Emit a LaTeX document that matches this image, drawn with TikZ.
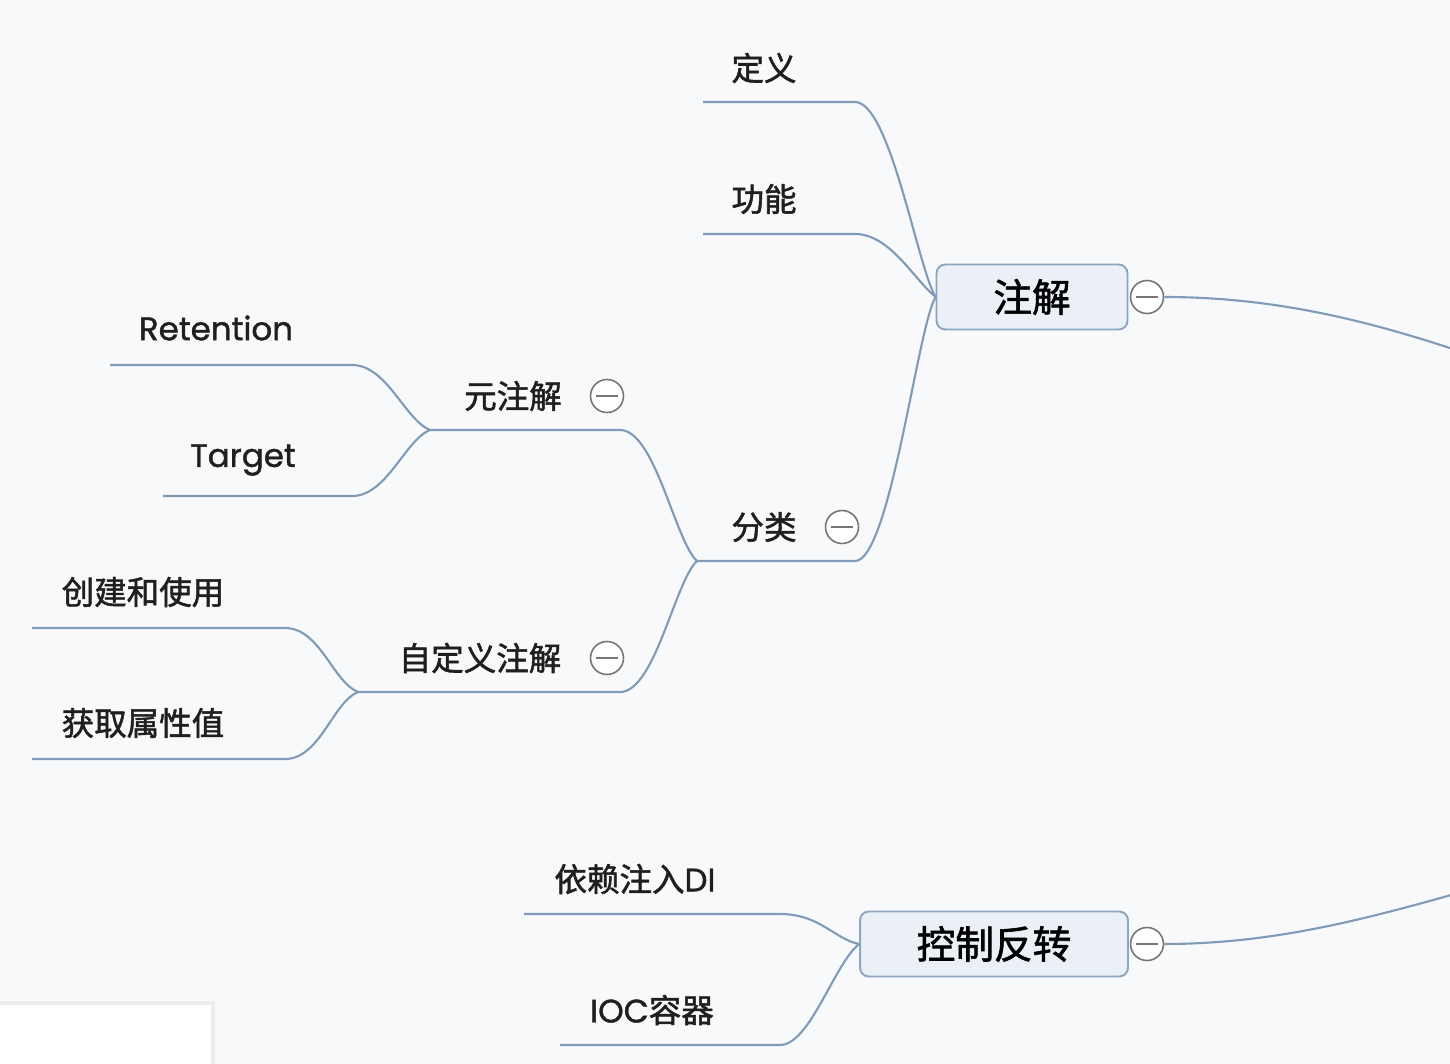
\documentclass[tikz,border=0pt]{standalone}
\usepackage{fontspec}
\setmainfont{Poppins}[FakeBold=1.2]
\newfontfamily\cjk{Noto Sans CJK SC}[FakeBold=1.6]

\definecolor{paper}{RGB}{248,249,250}
\definecolor{linkblue}{RGB}{128,155,184}
\definecolor{boxfill}{RGB}{234,240,246}
\definecolor{boxline}{RGB}{140,165,193}
\definecolor{foldgray}{RGB}{118,118,118}

\tikzset{
  topic/.style={font=\cjk\fontsize{18.5}{22}\selectfont, text=black!88, inner sep=0pt},
  latin/.style={font=\fontsize{18.5}{22}\selectfont, text=black!88, inner sep=0pt},
  maintopic/.style={draw=boxline, fill=boxfill, line width=1.1pt, rounded corners=5pt,
    minimum width=3.82cm, minimum height=1.3cm, font=\cjk\fontsize{22}{26}\selectfont},
  link/.style={draw=linkblue, line width=1.2pt},
  fold/.style={circle, draw=foldgray, fill=white, line width=0.9pt, minimum size=0.66cm, inner sep=0pt,
    path picture={\draw[foldgray, line width=0.9pt]
      ([xshift=-0.22cm]path picture bounding box.center) -- ([xshift=0.22cm]path picture bounding box.center);}}
}

\begin{document}
\begin{tikzpicture}[x=0.02cm, y=-0.02cm]
\useasboundingbox (0,0) rectangle (1450,1064);
\clip (0,0) rectangle (1450,1064);
\fill[paper] (0,0) rectangle (1450,1064);

% panel in the lower left corner
\fill[black!7] (0,1001) rectangle (215,1064);
\fill[white] (0,1005) rectangle (211,1064);

% main topics
\node[maintopic] (zhujie) at (1032,297) {注解};
\node[fold] (zhujie-fold) at (1147,297) {};
\node[maintopic, minimum width=5.36cm] (kongzhi) at (994,944) {控制反转};
\node[fold] (kongzhi-fold) at (1147,944) {};
\coordinate (zhujie-out) at (1462,352);
\coordinate (kongzhi-out) at (1462,892);

% subtopics of 注解
\node[topic] (dingyi) at (764,68) {定义};
\coordinate (dingyi-l) at (703,102);
\coordinate (dingyi-r) at (855,102);
\node[topic] (gongneng) at (764,199) {功能};
\coordinate (gongneng-l) at (703,234);
\coordinate (gongneng-r) at (855,234);
\node[topic] (fenlei) at (764,527) {分类};
\node[fold] (fenlei-fold) at (842,527) {};
\coordinate (fenlei-l) at (697,561);
\coordinate (fenlei-r) at (855,561);

% 分类
\node[topic] (yuan) at (513,396) {元注解};
\node[fold] (yuan-fold) at (607,396) {};
\coordinate (yuan-l) at (430,430);
\coordinate (yuan-r) at (620,430);
\node[topic] (zidingyi) at (480,658) {自定义注解};
\node[fold] (zidingyi-fold) at (607,658) {};
\coordinate (zidingyi-l) at (358,692);
\coordinate (zidingyi-r) at (620,692);

% 元注解
\node[latin] (retention) at (216,328) {Retention};
\coordinate (retention-l) at (110,365);
\coordinate (retention-r) at (352,365);
\node[latin] (target) at (243,460) {Target};
\coordinate (target-l) at (163,496);
\coordinate (target-r) at (352,496);

% 自定义注解
\node[topic] (chuangjian) at (143,592) {创建和使用};
\coordinate (chuangjian-l) at (32,628);
\coordinate (chuangjian-r) at (285,628);
\node[topic] (huoqu) at (143,723) {获取属性值};
\coordinate (huoqu-l) at (32,759);
\coordinate (huoqu-r) at (285,759);

% 控制反转
\node[topic] (di) at (635,879) {依赖注入{\rmfamily DI}};
\coordinate (di-l) at (524,914);
\coordinate (di-r) at (780,914);
\node[topic] (ioc) at (652,1010) {{\rmfamily IOC}容器};
\coordinate (ioc-l) at (560,1045);
\coordinate (ioc-r) at (780,1045);

% connectors
\draw[link] (dingyi-l) -- (dingyi-r) .. controls +(35,0) and +(-18,-30) .. (zhujie.west);
\draw[link] (gongneng-l) -- (gongneng-r) .. controls +(35,0) and +(-22,-18) .. (zhujie.west);
\draw[link] (fenlei-l) -- (fenlei-r) .. controls +(35,0) and +(-18,30) .. (zhujie.west);
\draw[link] (yuan-l) -- (yuan-r) .. controls +(35,0) and +(-22,-20) .. (fenlei-l);
\draw[link] (zidingyi-l) -- (zidingyi-r) .. controls +(35,0) and +(-22,20) .. (fenlei-l);
\draw[link] (retention-l) -- (retention-r) .. controls +(35,0) and +(-25,-10) .. (yuan-l);
\draw[link] (target-l) -- (target-r) .. controls +(35,0) and +(-25,10) .. (yuan-l);
\draw[link] (chuangjian-l) -- (chuangjian-r) .. controls +(35,0) and +(-25,-10) .. (zidingyi-l);
\draw[link] (huoqu-l) -- (huoqu-r) .. controls +(35,0) and +(-25,10) .. (zidingyi-l);
\draw[link] (di-l) -- (di-r) .. controls +(40,0) and +(-25,-5) .. (kongzhi.west);
\draw[link] (ioc-l) -- (ioc-r) .. controls +(30,0) and +(-25,20) .. (kongzhi.west);
\draw[link] (zhujie-fold) .. controls +(130,0) and +(-90,-30) .. (zhujie-out);
\draw[link] (kongzhi-fold) .. controls +(130,0) and +(-90,25) .. (kongzhi-out);
\end{tikzpicture}
\end{document}
